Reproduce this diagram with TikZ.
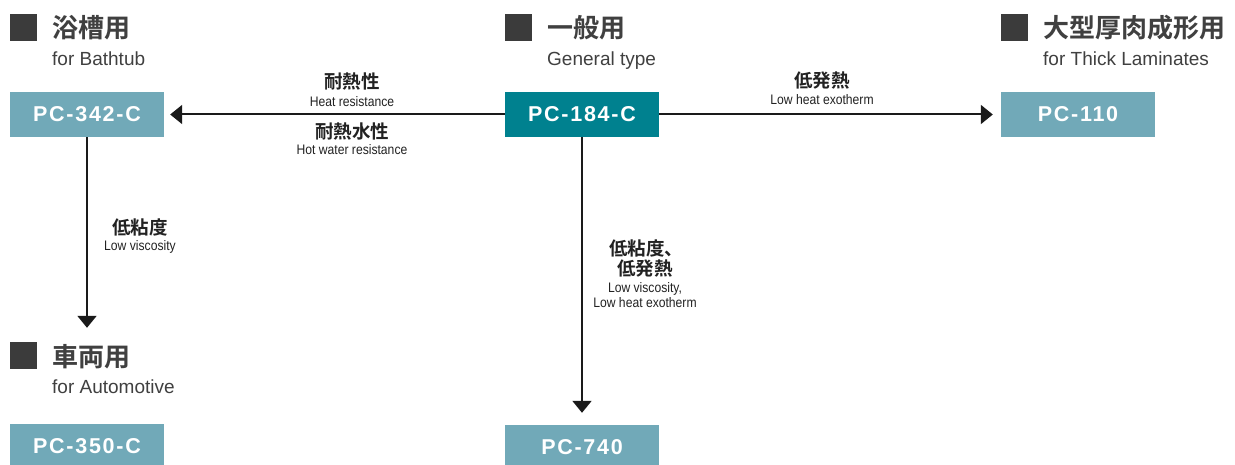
\documentclass[tikz,border=0pt]{standalone}
\usepackage{fontspec}
\setmainfont{Liberation Sans}
\newfontfamily\cjkb{Noto Sans CJK JP Bold}
\newfontfamily\condf{Liberation Sans}[FakeStretch=0.88]
\newfontfamily\boxf{Liberation Sans Bold}[LetterSpace=8]
\usetikzlibrary{arrows.meta}
\definecolor{lteal}{HTML}{71A9B8}
\definecolor{dteal}{HTML}{00818F}
\definecolor{sqgray}{HTML}{3B3B3B}
\definecolor{titlegray}{HTML}{404040}
\definecolor{lblcol}{HTML}{222222}
\definecolor{arrcol}{HTML}{1A1A1A}
\tikzset{
  prodbox/.style={fill=lteal, minimum width=154pt, minimum height=45pt, inner sep=0pt,
    text=white, font=\boxf\fontsize{21.5}{24}\selectfont},
  mainbox/.style={prodbox, fill=dteal},
  sq/.style={fill=sqgray, draw=none, minimum size=27pt, inner sep=0pt},
  cjktitle/.style={anchor=west, inner sep=0pt, text=titlegray, font=\cjkb\fontsize{26}{30}\selectfont},
  entitle/.style={anchor=base west, inner sep=0pt, text=titlegray, font=\fontsize{19}{22}\selectfont},
  cjklbl/.style={inner sep=0pt, text=lblcol, font=\cjkb\fontsize{18.5}{22}\selectfont},
  enlbl/.style={anchor=base, inner sep=0pt, text=lblcol, font=\condf\fontsize{13.8}{16}\selectfont},
  arr/.style={draw=arrcol, line width=2pt, -{Triangle[length=12pt,width=19pt]}}
}
\begin{document}
\begin{tikzpicture}[x=1pt,y=-1pt]
\clip (0,0) rectangle (1235,465);
\fill[white] (0,0) rectangle (1235,465);
% titles
\node[sq] (s1) at (23.5,27.5) {};
\node[cjktitle] (t1) at (52,28) {浴槽用};
\node[entitle] (e1) at (52,65.5) {for Bathtub};
\node[sq] (s2) at (518.5,27.5) {};
\node[cjktitle] (t2) at (547,28) {一般用};
\node[entitle] (e2) at (547,65.5) {General type};
\node[sq] (s3) at (1014.5,27.5) {};
\node[cjktitle] (t3) at (1043,28) {大型厚肉成形用};
\node[entitle] (e3) at (1043,65.5) {for Thick Laminates};
\node[sq] (s4) at (23.5,355.5) {};
\node[cjktitle] (t4) at (52,356.5) {車両用};
\node[entitle] (e4) at (52,393) {for Automotive};
% boxes
\node[prodbox] (p342) at (87,114.5) {PC-342-C};
\node[mainbox] (p184) at (582,114.5) {PC-184-C};
\node[prodbox] (p110) at (1078,114.5) {PC-110};
\node[prodbox] (p350) at (87,446.5) {PC-350-C};
\node[prodbox] (p740) at (582,447.5) {PC-740};
% arrows
\draw[arr, shorten >=6pt] (p184.west) -- (p342.east);
\draw[arr, shorten >=8pt] (p184.east) -- (p110.west);
\draw[arr, shorten >=96pt] (p342.south) -- (p350.north);
\draw[arr, shorten >=12pt] (p184.south) -- (p740.north);
% labels
\node[cjklbl] (l1) at (352,81) {耐熱性};
\node[enlbl] (l1e) at (352,107) {Heat resistance};
\node[cjklbl] (l2) at (352,131) {耐熱水性};
\node[enlbl] (l2e) at (352,155) {Hot water resistance};
\node[cjklbl] (l3) at (822,81) {低発熱};
\node[enlbl] (l3e) at (822,105) {Low heat exotherm};
\node[cjklbl] (l4) at (140,227) {低粘度};
\node[enlbl] (l4e) at (140,251) {Low viscosity};
\node[cjklbl] (l5) at (646,248.5) {低粘度、};
\node[cjklbl] (l5b) at (645,269) {低発熱};
\node[enlbl] (l5e) at (645,293) {Low viscosity,};
\node[enlbl] (l5f) at (645,308) {Low heat exotherm};
\end{tikzpicture}
\end{document}
